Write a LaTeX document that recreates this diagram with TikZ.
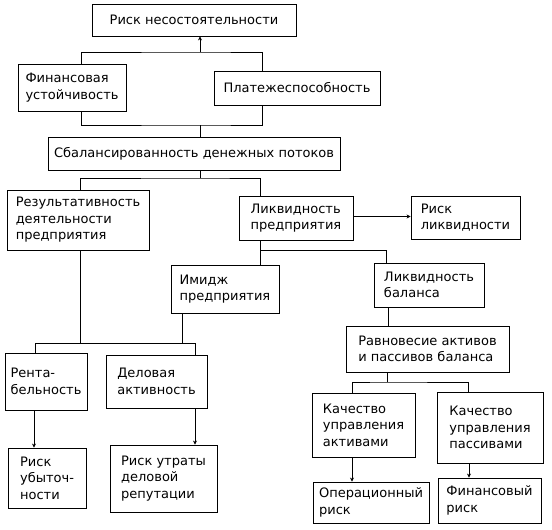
\documentclass[tikz,border=0pt]{standalone}
\usepackage{fontspec}
\setmainfont{DejaVu Sans}
\usetikzlibrary{arrows.meta}

\begin{document}
\begin{tikzpicture}[
	x=1pt, y=-1pt,
	line width=0.8pt,
	every node/.style={font=\fontsize{13}{16.5}\selectfont},
	box/.style={draw, align=left, inner sep=2pt},
	link/.style={-{Stealth[length=4pt,width=4pt]}}
]
\useasboundingbox (0,0) rectangle (552,530);

\node[box, minimum width=204pt, minimum height=32pt] (risk) at (194,20) {Риск несостоятельности};
\node[box, minimum width=108pt, minimum height=47pt] (finust) at (72,87.5) {Финансовая\\устойчивость};
\node[box, minimum width=166pt, minimum height=34pt] (plat) at (297,88) {Платежеспособность};
\node[box, minimum width=292pt, minimum height=33pt] (sbal) at (194,153.5) {Сбалансированность денежных потоков};
\node[box, minimum width=142pt, minimum height=60pt] (rez) at (78,220) {Результативность\\деятельности\\предприятия};
\node[box, minimum width=114pt, minimum height=44pt] (likvp) at (296,218) {Ликвидность\\предприятия};
\node[box, minimum width=109pt, minimum height=43pt] (risklikv) at (465.5,217.5) {Риск\\ликвидности};
\node[box, minimum width=108pt, minimum height=48pt] (imidzh) at (225,289) {Имидж\\предприятия};
\node[box, minimum width=110pt, minimum height=44pt] (likvbal) at (429,285) {Ликвидность\\баланса};
\node[box, minimum width=163pt, minimum height=46pt] (ravn) at (427.5,349) {Равновесие активов\\и пассивов баланса};
\node[box, minimum width=82pt, minimum height=57pt] (renta) at (46,381.5) {Рента-\\бельность};
\node[box, minimum width=101pt, minimum height=53pt] (delov) at (156.5,381.5) {Деловая\\активность};
\node[box, minimum width=78pt, minimum height=60pt] (riskub) at (47,478) {Риск\\убыточ-\\ности};
\node[box, minimum width=107pt, minimum height=67pt] (riskutr) at (163.5,478.5) {Риск утраты\\деловой\\репутации};
\node[box, minimum width=103pt, minimum height=64pt] (kachakt) at (363.5,425) {Качество\\управления\\активами};
\node[box, minimum width=106pt, minimum height=71pt] (kachpass) at (490,427.5) {Качество\\управления\\пассивами};
\node[box, minimum width=116pt, minimum height=41pt] (operac) at (371,502.5) {Операционный\\риск};
\node[box, minimum width=103pt, minimum height=45pt] (finrisk) at (489.5,500.5) {Финансовый\\риск};

% bus points
\coordinate (top) at (200,52);
\coordinate (mid) at (200,125);
\coordinate (low) at (200,178);
\coordinate (perf) at (80,343);
\coordinate (lb) at (260,250);
\coordinate (rb) at (387,382);

\draw ([xshift=9pt]finust.north) |- (top) -| ([xshift=-35pt]plat.north);
\draw[link] (top) -- ([xshift=6pt]risk.south);
\draw ([xshift=9pt]finust.south) |- (mid) -| ([xshift=-35pt]plat.south);
\draw (mid) -- ([xshift=6pt]sbal.north);
\draw ([xshift=6pt]sbal.south) -- (low);
\draw ([xshift=2pt]rez.north) |- (low) -| ([xshift=-36pt]likvp.north);

\draw ([xshift=2pt]rez.south) -- (perf);
\draw ([xshift=-43pt]imidzh.south) |- (perf);
\draw ([xshift=-11pt]renta.north) |- (perf);
\draw ([xshift=38.5pt]delov.north) |- (perf);

\draw[link] ([yshift=1.5pt]likvp.east) -- ([yshift=1.5pt]likvp.east -| risklikv.west);
\draw ([xshift=-36pt]likvp.south) -- ([xshift=35pt]imidzh.north);
\draw (lb) -| ([xshift=-43pt]likvbal.north);
\draw ([xshift=-41pt]likvbal.south) -- ([xshift=-41pt]likvbal.south |- ravn.north);
\draw ([xshift=-40.5pt]ravn.south) -- (rb);
\draw ([xshift=-11.5pt]kachakt.north) |- (rb) -| ([xshift=-22pt]kachpass.north);

\draw[link] ([xshift=-12pt]renta.south) -- ([xshift=-12pt]renta.south |- riskub.north);
\draw[link] ([xshift=38.5pt]delov.south) -- ([xshift=38.5pt]delov.south |- riskutr.north);
\draw[link] ([xshift=-11.5pt]kachakt.south) -- ([xshift=-11.5pt]kachakt.south |- operac.north);
\draw[link] ([xshift=-21pt]kachpass.south) -- ([xshift=-21pt]kachpass.south |- finrisk.north);
\end{tikzpicture}
\end{document}
